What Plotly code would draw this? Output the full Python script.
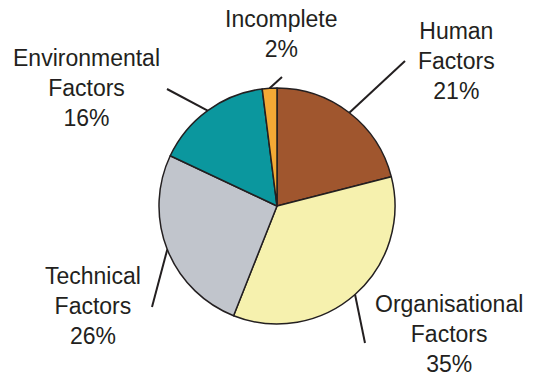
import math
import plotly.graph_objects as go

# Share of incident causes (percent)
categories = ["Human<br>Factors", "Organisational<br>Factors", "Technical<br>Factors",
              "Environmental<br>Factors", "Incomplete"]
shares = [21, 35, 26, 16, 2]
colors = ["#A0562E", "#F6F1AE", "#C1C5CC", "#0B979E", "#F3A935"]

W, H = 536, 377
CX, CY, R = 277, 206, 118  # pie centre / radius in pixels (from top-left)

# label centre (px) and leader-line end (px) for each slice
label_pos = [(456, 61), (449, 334), (93, 306), (86, 88), (281, 34)]
line_end = [(405, 61), (365, 343), (152, 307), (167, 89), (282, 77)]

fig = go.Figure(go.Pie(
    labels=[c.replace("<br>", " ") for c in categories],
    values=shares,
    sort=False,
    direction="clockwise",
    rotation=0,
    marker=dict(colors=colors, line=dict(color="#231F20", width=1.5)),
    textinfo="none",
    hoverinfo="label+percent",
    showlegend=False,
    domain=dict(x=[(CX - R) / W, (CX + R) / W],
                y=[(H - CY - R) / H, (H - CY + R) / H]),
))

total = sum(shares)
cum = 0
font = dict(family="Liberation Sans, Arial, sans-serif", size=23, color="#231F20")
for cat, v, (lx, ly), (ex, ey) in zip(categories, shares, label_pos, line_end):
    mid = (cum + v / 2) / total * 2 * math.pi
    cum += v
    sx = CX + R * math.sin(mid)
    sy = CY - R * math.cos(mid)
    fig.add_shape(type="line", xref="paper", yref="paper",
                  x0=sx / W, y0=1 - sy / H, x1=ex / W, y1=1 - ey / H,
                  line=dict(color="#231F20", width=2))
    fig.add_annotation(xref="paper", yref="paper", x=lx / W, y=1 - ly / H,
                       xanchor="center", yanchor="middle", showarrow=False,
                       text=f"{cat}<br>{v}%", font=font, align="center")

fig.update_layout(width=W, height=H, margin=dict(l=0, r=0, t=0, b=0),
                  paper_bgcolor="white", plot_bgcolor="white")
fig.write_html("out.html")
